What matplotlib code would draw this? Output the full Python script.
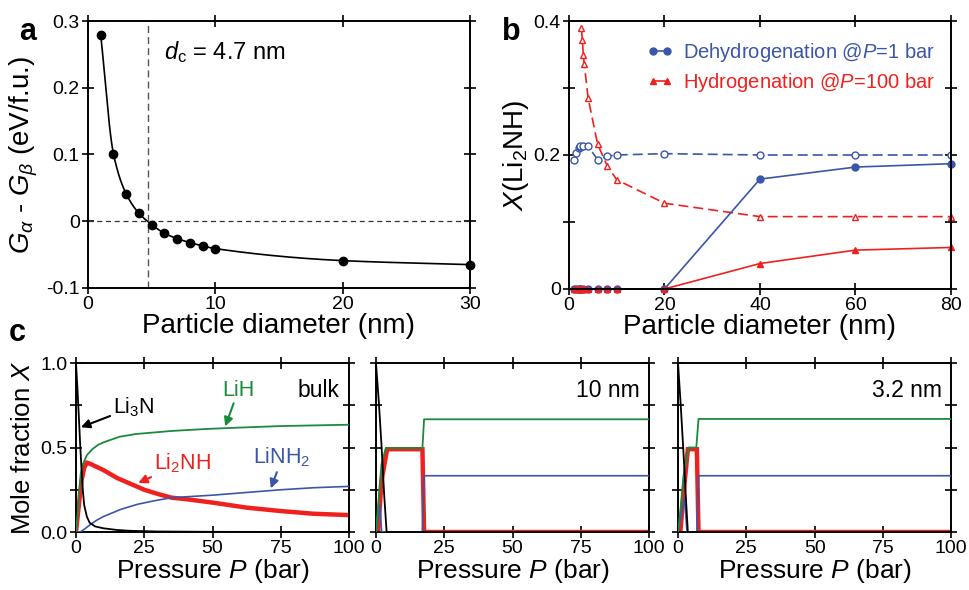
import numpy as np
import matplotlib
matplotlib.use("Agg")
import matplotlib.pyplot as plt

plt.rcParams['font.family'] = ['Liberation Sans', 'DejaVu Sans']
plt.rcParams['mathtext.fontset'] = 'custom'
plt.rcParams['mathtext.rm'] = 'Liberation Sans'
plt.rcParams['mathtext.it'] = 'Liberation Sans:italic'
plt.rcParams['mathtext.bf'] = 'Liberation Sans:bold'

# ---------------- data: panel a ----------------
a_diam = [1, 2, 3, 4, 5, 6, 7, 8, 9, 10, 20, 30]
a_dG = [0.279, 0.101, 0.041, 0.012, -0.005, -0.018, -0.026, -0.032, -0.037, -0.041, -0.059, -0.065]
d_crit = 4.7

# ---------------- data: panel b ----------------
deh_open_x = [1, 1.5, 2, 2.2, 2.4, 3, 4, 6, 8, 10, 20, 40, 60, 80]
deh_open_y = [0.193, 0.203, 0.210, 0.212, 0.213, 0.213, 0.213, 0.193, 0.198, 0.200, 0.202, 0.200, 0.200, 0.200]
deh_fill_x = [1, 1.5, 2, 2.2, 2.4, 3, 4, 6, 8, 10, 20, 40, 60, 80]
deh_fill_y = [0, 0, 0, 0, 0, 0, 0, 0, 0, 0, 0, 0.164, 0.182, 0.187]
hyd_open_x = [2.6, 2.8, 3.0, 3.2, 4, 6, 8, 10, 20, 40, 60, 80]
hyd_open_y = [0.389, 0.372, 0.349, 0.336, 0.285, 0.216, 0.184, 0.163, 0.128, 0.108, 0.108, 0.108]
hyd_fill_x = [1, 1.5, 2, 2.2, 2.4, 2.6, 2.8, 3, 3.2, 4, 6, 8, 10, 20, 40, 60, 80]
hyd_fill_y = [0, 0, 0, 0, 0, 0, 0, 0, 0, 0, 0, 0, 0, 0, 0.038, 0.058, 0.062]

# ---------------- data: panel c (bulk) ----------------
bulk_li3n_P = [0, 0.5, 1, 1.5, 2, 2.5, 3, 4, 5, 7, 10, 15, 20, 30, 50, 100]
bulk_li3n_X = [1.0, 0.86, 0.70, 0.53, 0.38, 0.25, 0.16, 0.09, 0.055, 0.033, 0.022, 0.012, 0.007, 0.003, 0.001, 0.0]
bulk_lih_P = [0, 1, 1.7, 2.5, 4, 6, 8, 10, 16, 22, 35, 48, 60, 75, 100]
bulk_lih_X = [0, 0.18, 0.34, 0.40, 0.455, 0.49, 0.515, 0.53, 0.564, 0.58, 0.598, 0.61, 0.618, 0.627, 0.635]
bulk_li2nh_P = [0, 1, 2, 3, 4, 5, 7, 10, 15, 20, 25, 30, 35, 40, 50, 62.5, 75, 87, 100]
bulk_li2nh_X = [0, 0.15, 0.30, 0.38, 0.41, 0.405, 0.39, 0.367, 0.32, 0.285, 0.25, 0.225, 0.203, 0.195, 0.174, 0.144, 0.124, 0.108, 0.10]
bulk_linh2_P = [0, 1.5, 2.7, 5, 7.7, 10, 16.4, 22.5, 28.7, 35, 40, 50, 62.5, 75, 87, 100]
bulk_linh2_X = [0, 0, 0.012, 0.041, 0.071, 0.091, 0.134, 0.164, 0.185, 0.203, 0.208, 0.218, 0.234, 0.25, 0.262, 0.27]

# ---------------- data: panel c (10 nm) ----------------
n10_li3n_P = [0, 1, 2, 3, 3.9, 100]
n10_li3n_X = [1.0, 0.78, 0.52, 0.22, 0.0, 0.0]
n10_lih_P = [0, 1, 2, 3.6, 17.0, 17.6, 100]
n10_lih_X = [0, 0.2, 0.4, 0.497, 0.497, 0.667, 0.667]
n10_li2nh_P = [0, 0.8, 2, 4.1, 17.0, 17.6, 100]
n10_li2nh_X = [0, 0, 0.3, 0.49, 0.49, 0.0, 0.0]
n10_linh2_P = [0, 1.45, 2.06, 17.0, 17.6, 100]
n10_linh2_X = [0, 0.16, 0, 0, 0.333, 0.333]

# ---------------- data: panel c (3.2 nm) ----------------
n32_li3n_P = [0, 1, 2, 3, 3.6, 100]
n32_li3n_X = [1.0, 0.75, 0.47, 0.17, 0.0, 0.0]
n32_lih_P = [0, 1, 2, 3.9, 6.7, 7.5, 100]
n32_lih_X = [0, 0.15, 0.33, 0.5, 0.5, 0.669, 0.669]
n32_li2nh_P = [0, 0.85, 2, 3.6, 6.9, 7.5, 100]
n32_li2nh_X = [0, 0, 0.22, 0.49, 0.49, 0.0, 0.0]
n32_linh2_P = [0, 2.4, 3.3, 7.0, 7.5, 100]
n32_linh2_X = [0, 0.2, 0, 0, 0.333, 0.333]

BLUE = '#3a56a8'
RED = '#f0201e'
GREEN = '#1b8a3c'

TICK_FS = 14
LABEL_FS = 20


def pchip(x, y, xn):
    x = np.asarray(x, float)
    y = np.asarray(y, float)
    h = np.diff(x)
    d = np.diff(y) / h
    m = np.zeros_like(y)
    for k in range(1, len(x) - 1):
        if d[k - 1] * d[k] <= 0:
            m[k] = 0
        else:
            w1 = 2 * h[k] + h[k - 1]
            w2 = h[k] + 2 * h[k - 1]
            m[k] = (w1 + w2) / (w1 / d[k - 1] + w2 / d[k])
    m[0] = d[0]
    m[-1] = d[-1]
    idx = np.clip(np.searchsorted(x, xn) - 1, 0, len(x) - 2)
    t = (xn - x[idx]) / h[idx]
    h00 = 2 * t**3 - 3 * t**2 + 1
    h10 = t**3 - 2 * t**2 + t
    h01 = -2 * t**3 + 3 * t**2
    h11 = t**3 - t**2
    return h00 * y[idx] + h10 * h[idx] * m[idx] + h01 * y[idx + 1] + h11 * h[idx] * m[idx + 1]


def style_axes(ax):
    for s in ax.spines.values():
        s.set_linewidth(1.4)
    ax.tick_params(direction='inout', length=8, width=1.2, top=True, right=True,
                   labelsize=TICK_FS, pad=2)


fig = plt.figure(figsize=(9.69, 5.90), dpi=100)

# ---------------- panel a ----------------
axa = fig.add_axes([0.0908, 0.5119, 0.3942, 0.4525])
xs = np.linspace(a_diam[0], a_diam[-1], 600)
axa.plot(xs, pchip(a_diam, a_dG, xs), color='black', lw=1.2)
axa.plot(a_diam, a_dG, 'o', color='black', ms=6, clip_on=False, zorder=5)
axa.axhline(0, color='#333333', lw=0.9, ls=(0, (4, 3)))
axa.axvline(d_crit, color='#555555', lw=1.0, ls=(0, (5, 3)))
axa.set_xlim(0, 30)
axa.set_ylim(-0.1, 0.3)
axa.set_xticks([0, 10, 20, 30])
axa.set_yticks([-0.1, 0, 0.1, 0.2, 0.3])
axa.set_yticklabels(['-0.1', '0', '0.1', '0.2', '0.3'])
style_axes(axa)
axa.set_xlabel('Particle diameter (nm)', fontsize=LABEL_FS, labelpad=0)
axa.set_ylabel(r'$G_\alpha$ - $G_\beta$ (eV/f.u.)', fontsize=LABEL_FS, labelpad=4)
axa.text(6.0, 0.243, r'$d_\mathrm{c}$ = 4.7 nm', fontsize=17)
fig.text(0.028, 0.945, 'a', fontsize=22, fontweight='bold', ha='center', va='center')

# ---------------- panel b ----------------
axb = fig.add_axes([0.5872, 0.5102, 0.3942, 0.4542])
axb.plot(deh_open_x, deh_open_y, color=BLUE, lw=1.2, ls=(0, (6, 3)),
         marker='o', mfc='white', mec=BLUE, ms=5, mew=1.0)
axb.plot(hyd_open_x, hyd_open_y, color=RED, lw=1.2, ls=(0, (6, 3)),
         marker='^', mfc='white', mec=RED, ms=5, mew=1.0, clip_on=False)
axb.plot(deh_fill_x, deh_fill_y, color=BLUE, lw=1.2, marker='o', ms=5,
         label=r'Dehydrogenation @$P$=1 bar', clip_on=False)
axb.plot(hyd_fill_x, hyd_fill_y, color=RED, lw=1.2, marker='^', ms=5,
         label=r'Hydrogenation @$P$=100 bar', clip_on=False)
axb.set_xlim(0, 80)
axb.set_ylim(0, 0.4)
axb.set_xticks([0, 20, 40, 60, 80])
axb.set_yticks([0, 0.1, 0.2, 0.3, 0.4])
axb.set_yticklabels(['0', '', '0.2', '', '0.4'])
style_axes(axb)
axb.set_xlabel('Particle diameter (nm)', fontsize=LABEL_FS, labelpad=0)
axb.set_ylabel(r'$X$(Li$_2$NH)', fontsize=LABEL_FS, labelpad=2)
leg = axb.legend(loc='upper right', frameon=False, fontsize=14.5, numpoints=2,
                 handlelength=1.3, handletextpad=0.5, labelspacing=0.35,
                 bbox_to_anchor=(0.99, 0.97), borderaxespad=0.2)
for t, c in zip(leg.get_texts(), [BLUE, RED]):
    t.set_color(c)
fig.text(0.528, 0.945, 'b', fontsize=22, fontweight='bold', ha='center', va='center')

# ---------------- panel c ----------------
lefts = [0.0784, 0.388, 0.6997]
width = 0.282
bottom, height = 0.0983, 0.2864
sets = [
    (bulk_li3n_P, bulk_li3n_X, bulk_lih_P, bulk_lih_X, bulk_li2nh_P, bulk_li2nh_X, bulk_linh2_P, bulk_linh2_X, 'bulk'),
    (n10_li3n_P, n10_li3n_X, n10_lih_P, n10_lih_X, n10_li2nh_P, n10_li2nh_X, n10_linh2_P, n10_linh2_X, '10 nm'),
    (n32_li3n_P, n32_li3n_X, n32_lih_P, n32_lih_X, n32_li2nh_P, n32_li2nh_X, n32_linh2_P, n32_linh2_X, '3.2 nm'),
]
axes_c = []
for i, (l, s) in enumerate(zip(lefts, sets)):
    ax = fig.add_axes([l, bottom, width, height])
    axes_c.append(ax)
    p1, x1, p2, x2, p3, x3, p4, x4, lab = s
    ax.plot(p3, x3, color=RED, lw=3.2, solid_joinstyle='miter', zorder=2)
    ax.plot(p4, x4, color=BLUE, lw=1.2, zorder=3)
    ax.plot(p2, x2, color=GREEN, lw=1.3, zorder=4)
    ax.plot(p1, x1, color='black', lw=1.3, zorder=5)
    ax.set_xlim(0, 100)
    ax.set_ylim(0, 1.0)
    ax.set_xticks([0, 25, 50, 75, 100])
    ax.set_yticks([0, 0.25, 0.5, 0.75, 1.0])
    if i == 0:
        ax.set_yticklabels(['0.0', '', '0.5', '', '1.0'])
        ax.set_ylabel(r'Mole fraction $X$', fontsize=18.5, labelpad=4)
    else:
        ax.set_yticklabels([])
    style_axes(ax)
    ax.set_xlabel(r'Pressure $P$ (bar)', fontsize=19, labelpad=0)
    ax.text(96.5, 0.84, lab, fontsize=16.5, ha='right', va='center')

axc = axes_c[0]
arrow = dict(arrowstyle='-|>', color='black', lw=1.5, mutation_scale=13, shrinkA=0, shrinkB=0)
axc.annotate(r'Li$_3$N', xy=(1.8, 0.62), xytext=(13.5, 0.74), fontsize=15.5,
             ha='left', va='center', arrowprops=dict(arrow, color='black'))
axc.annotate('LiH', xy=(54.6, 0.625), xytext=(59.5, 0.84), fontsize=15.5, color=GREEN,
             ha='center', va='center', arrowprops=dict(arrow, color=GREEN))
axc.annotate(r'Li$_2$NH', xy=(22.8, 0.29), xytext=(28.5, 0.41), fontsize=15.5, color=RED,
             ha='left', va='center', arrowprops=dict(arrow, color=RED))
axc.annotate(r'LiNH$_2$', xy=(71.3, 0.258), xytext=(75.5, 0.44), fontsize=15.5, color=BLUE,
             ha='center', va='center', arrowprops=dict(arrow, color=BLUE))
fig.text(0.018, 0.435, 'c', fontsize=22, fontweight='bold', ha='center', va='center')

fig.savefig('out.png', dpi=100)
